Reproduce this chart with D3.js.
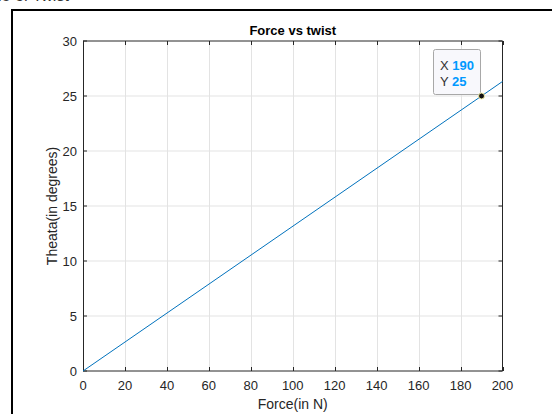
<!DOCTYPE html>
<html>
<head>
<meta charset="utf-8">
<script src="https://cdn.jsdelivr.net/npm/d3@7"></script>
<style>
  body { margin: 0; background: #fff; }
  text { font-family: "Liberation Sans", Arial, sans-serif; }
</style>
</head>
<body>
<div id="chart"></div>
<script>
// Data
var forces = [0, 190, 200];
var twists = [0, 25, 26.32];
var xTicks = [0, 20, 40, 60, 80, 100, 120, 140, 160, 180, 200];
var yTicks = [0, 5, 10, 15, 20, 25, 30];
var tipPoint = { x: 190, y: 25 };

// Basic setup
var width = 552,
    height = 414,
    margin = { left: 83, right: 50, top: 41, bottom: 43 };

var svg = d3.select("#chart").append("svg")
    .attr("width", width)
    .attr("height", height);

// cropped page text peeking in at the top
svg.append("text")
    .attr("x", -2)
    .attr("y", 1)
    .attr("font-size", 16)
    .attr("fill", "#333")
    .text("le of Twist");

// figure frame
svg.append("rect")
    .attr("x", 12)
    .attr("y", 10)
    .attr("width", 600)
    .attr("height", 500)
    .attr("fill", "#fff")
    .attr("stroke", "#000")
    .attr("stroke-width", 2);

var x = d3.scaleLinear()
    .domain([0, 200])
    .range([margin.left, width - margin.right + 0.5]);

var y = d3.scaleLinear()
    .domain([0, 30])
    .range([height - margin.bottom, margin.top]);

var x0 = x.range()[0], x1 = x.range()[1];
var y0 = y.range()[0], y1 = y.range()[1];

// grid
svg.append("g").selectAll("line.vgrid")
    .data(xTicks.slice(1, -1))
  .enter().append("line")
    .attr("x1", function(d) { return Math.round(x(d)) + 0.5; })
    .attr("x2", function(d) { return Math.round(x(d)) + 0.5; })
    .attr("y1", y1).attr("y2", y0)
    .attr("stroke", "#e3e3e3");

svg.append("g").selectAll("line.hgrid")
    .data(yTicks.slice(1, -1))
  .enter().append("line")
    .attr("x1", x0).attr("x2", x1)
    .attr("y1", function(d) { return y(d); })
    .attr("y2", function(d) { return y(d); })
    .attr("stroke", "#e3e3e3");

// box
var axisColor = "#262626";
svg.append("line").attr("x1", x0).attr("x2", x1).attr("y1", y0).attr("y2", y0).attr("stroke", axisColor);
svg.append("line").attr("x1", x0).attr("x2", x1).attr("y1", y1).attr("y2", y1).attr("stroke", axisColor);
svg.append("line").attr("x1", x0 + 0.5).attr("x2", x0 + 0.5).attr("y1", y1).attr("y2", y0).attr("stroke", axisColor);
svg.append("line").attr("x1", x1).attr("x2", x1).attr("y1", y1).attr("y2", y0).attr("stroke", axisColor);

// ticks (inward, both sides)
var tickLen = 4;
xTicks.forEach(function(d) {
  var px = Math.round(x(d)) + 0.5;
  svg.append("line").attr("x1", px).attr("x2", px).attr("y1", y0).attr("y2", y0 - tickLen).attr("stroke", axisColor);
  svg.append("line").attr("x1", px).attr("x2", px).attr("y1", y1).attr("y2", y1 + tickLen).attr("stroke", axisColor);
});
yTicks.forEach(function(d) {
  svg.append("line").attr("x1", x0).attr("x2", x0 + tickLen).attr("y1", y(d)).attr("y2", y(d)).attr("stroke", axisColor);
  svg.append("line").attr("x1", x1).attr("x2", x1 - tickLen).attr("y1", y(d)).attr("y2", y(d)).attr("stroke", axisColor);
});

// tick labels
svg.append("g").selectAll("text")
    .data(xTicks)
  .enter().append("text")
    .attr("x", function(d) { return x(d); })
    .attr("y", y0 + 19)
    .attr("text-anchor", "middle")
    .attr("font-size", 13)
    .attr("fill", axisColor)
    .text(function(d) { return d; });

svg.append("g").selectAll("text")
    .data(yTicks)
  .enter().append("text")
    .attr("x", x0 - 6)
    .attr("y", function(d) { return y(d) + 4.5; })
    .attr("text-anchor", "end")
    .attr("font-size", 13)
    .attr("fill", axisColor)
    .text(function(d) { return d; });

// labels and title
svg.append("text")
    .attr("x", (x0 + x1) / 2)
    .attr("y", 35)
    .attr("text-anchor", "middle")
    .attr("font-size", 13)
    .attr("font-weight", "bold")
    .attr("fill", "#000")
    .text("Force vs twist");

svg.append("text")
    .attr("x", (x0 + x1) / 2)
    .attr("y", 409)
    .attr("text-anchor", "middle")
    .attr("font-size", 14)
    .attr("fill", axisColor)
    .text("Force(in N)");

svg.append("text")
    .attr("transform", "translate(57," + ((y0 + y1) / 2) + ") rotate(-90)")
    .attr("text-anchor", "middle")
    .attr("font-size", 14)
    .attr("fill", axisColor)
    .text("Theata(in degrees)");

// the line
var line = d3.line()
    .x(function(d, i) { return x(forces[i]); })
    .y(function(d) { return y(d); });

svg.append("path")
    .datum(twists)
    .attr("d", line)
    .attr("fill", "none")
    .attr("stroke", "#0072BD")
    .attr("stroke-width", 1);

// data tip
var tx = x(tipPoint.x), ty = y(tipPoint.y);
var tip = svg.append("g");
tip.append("rect")
    .attr("x", 433.5)
    .attr("y", 49.5)
    .attr("width", 47)
    .attr("height", 45)
    .attr("rx", 2)
    .attr("fill", "#f8f8fc")
    .attr("stroke", "#a8a8a8");

[["X", tipPoint.x, 70], ["Y", tipPoint.y, 86]].forEach(function(r) {
  var t = tip.append("text")
      .attr("x", 440)
      .attr("y", r[2])
      .attr("font-size", 13);
  t.append("tspan").attr("fill", "#333").text(r[0] + " ");
  t.append("tspan").attr("fill", "#0099ff").attr("font-weight", "bold").text(r[1]);
});

svg.append("circle")
    .attr("cx", tx)
    .attr("cy", ty)
    .attr("r", 3)
    .attr("fill", "#111")
    .attr("stroke", "#f4f0a8")
    .attr("stroke-width", 1);
</script>
</body>
</html>
